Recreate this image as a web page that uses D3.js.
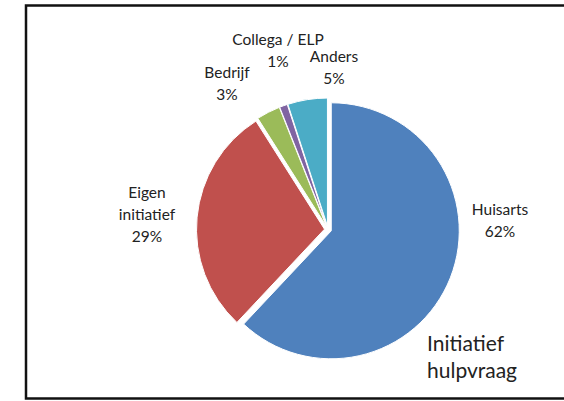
<!DOCTYPE html>
<html>
<head>
<meta charset="utf-8">
<script src="https://cdn.jsdelivr.net/npm/d3@7"></script>
<style>
  body { margin: 0; background: #fff; }
  svg text { font-family: Lato, "Open Sans", sans-serif; fill: #222; }
</style>
</head>
<body>
<div id="chart"></div>
<script>
// Pie chart — "Initiatief hulpvraag"

const categories = ["Huisarts", "Eigen initiatief", "Bedrijf", "Collega / ELP", "Anders"];
const values = [62, 29, 3, 1, 5];
const colors = ["#4F81BD", "#C0504D", "#9BBB59", "#8064A2", "#4BACC6"];
// label lines per slice (text as shown in the picture)
const labelLines = [
  ["Huisarts", "62%"],
  ["Eigen", "initiatief", "29%"],
  ["Bedrijf", "3%"],
  ["Collega / ELP", "1%"],
  ["Anders", "5%"]
];
const title = ["Initiatief", "hulpvraag"];

const width = 564, height = 401;
const cx = 328, cy = 229.5, radius = 128;
const explode = 3.5;

const svg = d3.select("#chart").append("svg")
  .attr("width", width)
  .attr("height", height);

// outer frame
svg.append("rect")
  .attr("x", 26).attr("y", 5.5)
  .attr("width", 560).attr("height", 393)
  .attr("fill", "none")
  .attr("stroke", "#111")
  .attr("stroke-width", 2.5);

const pie = d3.pie().sort(null).value(d => d.v);
const arcs = pie(categories.map((c, i) => ({ c, v: values[i], i })));

const arc = d3.arc().innerRadius(0).outerRadius(radius);

const g = svg.append("g").attr("transform", `translate(${cx},${cy})`);

g.selectAll("path")
  .data(arcs)
  .join("path")
  .attr("d", arc)
  .attr("fill", d => colors[d.data.i])
  .attr("stroke", "#fff")
  .attr("stroke-width", 1)
  .attr("transform", d => {
    const a = (d.startAngle + d.endAngle) / 2;
    return `translate(${Math.sin(a) * explode},${-Math.cos(a) * explode})`;
  });

// label positions (relative to pie centre)
const labelPos = [
  [172, -15],
  [-181, -32],
  [-101, -152],
  [-50, -185],
  [6, -168]
];

arcs.forEach(d => {
  const lines = labelLines[d.data.i];
  const t = g.append("text")
    .attr("text-anchor", "middle")
    .attr("font-size", 15.5);
  lines.forEach((ln, j) => {
    t.append("tspan")
      .attr("x", labelPos[d.data.i][0])
      .attr("y", labelPos[d.data.i][1] + j * 22)
      .text(ln);
  });
});

// chart title in the lower right
const tt = svg.append("text").attr("font-size", 21);
title.forEach((ln, j) => {
  tt.append("tspan").attr("x", 427).attr("y", 351 + j * 27).text(ln);
});
</script>
</body>
</html>
